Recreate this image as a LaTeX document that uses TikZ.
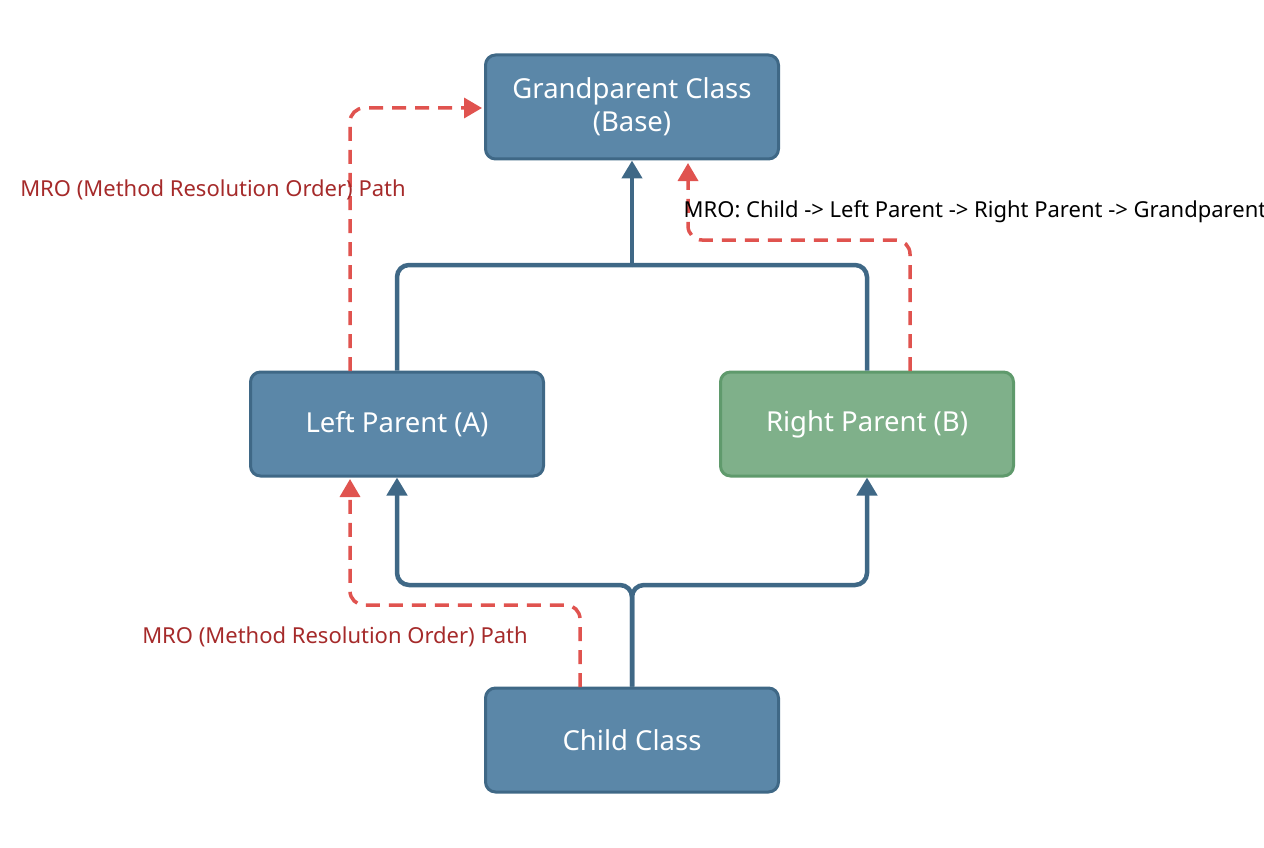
\documentclass[tikz,border=0pt]{standalone}
\usepackage{fontspec}
\setmainfont{Noto Sans}
\usetikzlibrary{arrows.meta}
\definecolor{bfill}{HTML}{5B87A8}
\definecolor{bedge}{HTML}{3F6886}
\definecolor{gfill}{HTML}{7FB08A}
\definecolor{gedge}{HTML}{5F9A6C}
\definecolor{mro}{HTML}{E0534F}
\definecolor{mrotext}{HTML}{A52A2A}
\begin{document}
\begin{tikzpicture}[x=1pt,y=-1pt,
  box/.style={draw=bedge,fill=bfill,line width=3pt,rounded corners=10pt,minimum width=293pt,minimum height=104pt,text=white,font=\fontsize{27.5}{33}\selectfont,align=center},
  gbox/.style={box,draw=gedge,fill=gfill},
  inh/.style={draw=bedge,line width=4.5pt,rounded corners=12pt,-{Triangle[length=18pt,width=20pt]}},
  inhp/.style={draw=bedge,line width=4.5pt,rounded corners=12pt},
  mrol/.style={draw=mro,line width=3.5pt,dash pattern=on 14pt off 9pt,rounded corners=14pt,-{Triangle[length=18pt,width=20pt]}},
  lbl/.style={font=\fontsize{22}{26}\selectfont}]
\useasboundingbox (0,0) rectangle (1264,848);
\node[box] (gp) at (632,107) {Grandparent Class\\(Base)};
\node[box] (lp) at (397,424) {Left Parent (A)};
\node[gbox] (rp) at (867,424) {Right Parent (B)};
\node[box] (ch) at (632,740) {Child Class};
% inheritance
\draw[inh] (ch.north) -- (632,585) -| (lp.south);
\draw[inh] (ch.north) -- (632,585) -| (rp.south);
\draw[inhp] (lp.north) |- (632,265);
\draw[inhp] (rp.north) |- (632,265);
\draw[inh] (632,266) -- (gp.south);
% MRO paths
\coordinate (c1) at (580,687);
\draw[mrol] (c1) |- (350,605) -- (350,479);
\coordinate (c2) at (350,371);
\draw[mrol] (c2) |- (482,108);
\coordinate (c3) at (910,371);
\draw[mrol] (c3) |- (688,240) -- (688,163);
\node[lbl,text=mrotext] (t1) at (335,637) {MRO (Method Resolution Order) Path};
\node[lbl,text=mrotext] (t2) at (213,190) {MRO (Method Resolution Order) Path};
\node[lbl,text=black] (t3) at (975,212) {MRO: Child -> Left Parent -> Right Parent -> Grandparent};
\end{tikzpicture}
\end{document}
